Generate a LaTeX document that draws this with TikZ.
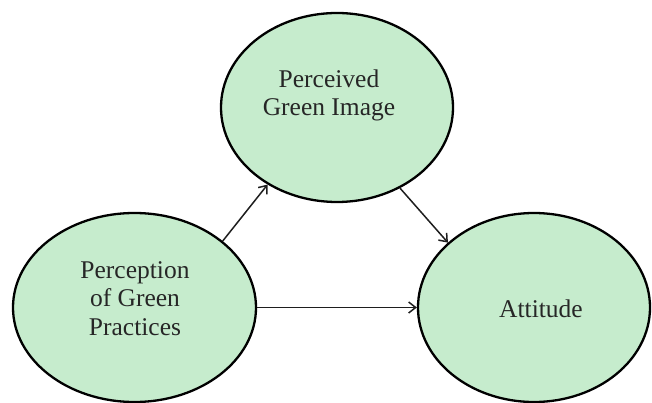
\documentclass[tikz,border=0pt]{standalone}
\usepackage{fontspec}
\setmainfont{Liberation Serif}
\newfontfamily\bubblefont{Liberation Serif}
\usetikzlibrary{arrows.meta,shapes.geometric}
\definecolor{bubblefill}{RGB}{198,236,205}
\definecolor{linkcol}{RGB}{30,30,30}
\tikzset{
  bubble/.style={ellipse, draw=black, line width=2.3pt, fill=bubblefill, inner sep=0pt, minimum height=189pt},
  caption/.style={font=\bubblefont\fontsize{25.5}{28.5}\selectfont, text=black!85, align=center, inner sep=0pt},
  link/.style={draw=linkcol, line width=1.5pt, -{Straight Barb[length=7pt,width=11pt,line width=1.5pt]}}
}
\begin{document}
\begin{tikzpicture}[x=1pt,y=-1pt]
  \useasboundingbox (0,0) rectangle (652,403);
  % the three constructs
  \node[bubble, minimum width=232pt] (image) at (337,107.5) {};
  \node[bubble, minimum width=243pt] (practices) at (134.5,307.5) {};
  \node[bubble, minimum width=232pt] (attitude) at (534,307.5) {};
  % their labels
  \node[caption] (imagetext) at (329,95.5) {Perceived\\Green Image};
  \node[caption] (practicestext) at (135,298.5) {Perception\\of Green\\Practices};
  \node[caption, anchor=base] (attitudetext) at (541,317) {Attitude};
  % paths between them
  \draw[link] (practices.37.7) -- (image.228);
  \draw[link] (image.308) -- (attitude.143);
  \draw[link] (practices.east) -- (attitude.west);
\end{tikzpicture}
\end{document}
